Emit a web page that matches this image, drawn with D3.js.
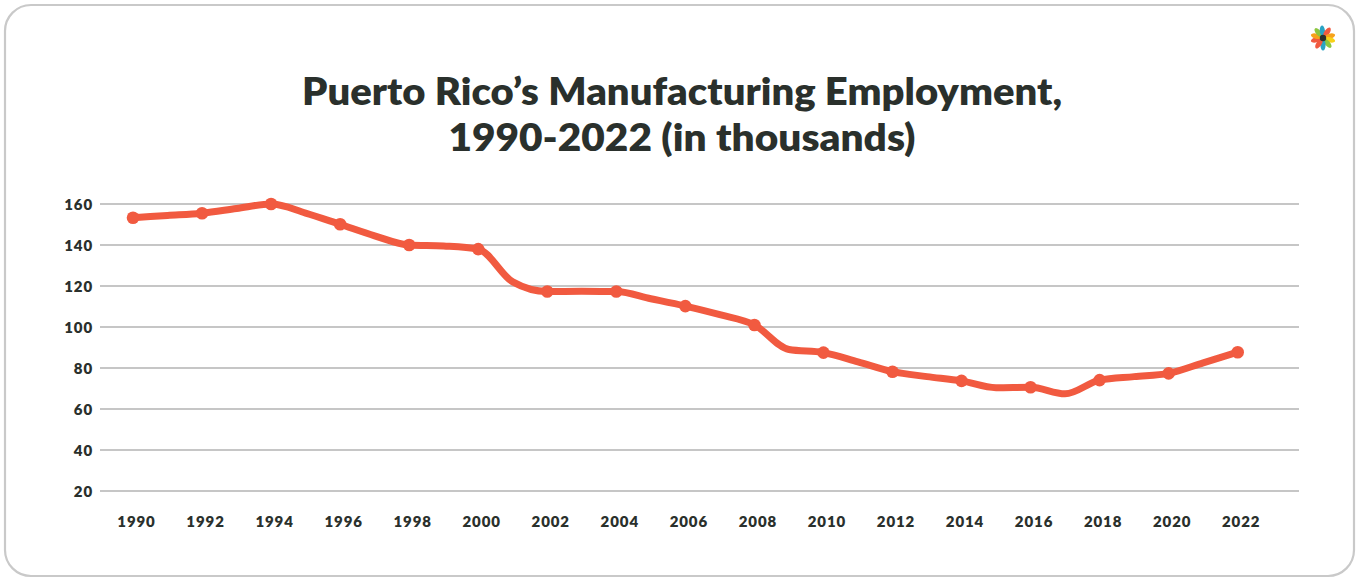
<!DOCTYPE html>
<html><head><meta charset="utf-8">
<script src="https://cdn.jsdelivr.net/npm/d3@7"></script>
<style>
html,body{margin:0;padding:0;background:#fff;}
svg{display:block;}
</style></head>
<body>
<svg id="chart" width="1359" height="579"></svg>
<script>
const years = [1990,1991,1992,1993,1994,1995,1996,1997,1998,1999,2000,2001,2002,2003,2004,2005,2006,2007,2008,2009,2010,2011,2012,2013,2014,2015,2016,2017,2018,2019,2020,2021,2022];
const employment = [153.3,154.4,155.5,157.8,160,155.6,150.1,144.5,140,139.5,138,122,117.3,117.4,117.3,113.8,110.2,106,101,89,87.5,83,78.2,75.8,73.7,70.4,70.6,67.4,74.1,75.8,77.4,82.5,87.7];
const xTickYears = [1990,1992,1994,1996,1998,2000,2002,2004,2006,2008,2010,2012,2014,2016,2018,2020,2022];
const yTicks = [20,40,60,80,100,120,140,160];
const titleLines = ["Puerto Rico\u2019s Manufacturing Employment,","1990-2022 (in thousands)"];
const titleWidths = [760, 467];

const svg = d3.select("#chart");
const W = 1359, H = 579;
const FONT = "Lato, 'Open Sans', sans-serif";

svg.append("rect").attr("x",5).attr("y",5).attr("width",W-10).attr("height",H-8)
  .attr("rx",26).attr("ry",26).attr("fill","#fff").attr("stroke","#c9c9c9").attr("stroke-width",2.2);

// title
const title = svg.append("text").attr("text-anchor","middle")
  .attr("font-family",FONT).attr("font-weight",800)
  .attr("font-size",37).attr("fill","#2a302c");
titleLines.forEach((t,i)=>title.append("tspan").attr("x",682).attr("y",105+i*46)
  .attr("textLength",titleWidths[i]).attr("lengthAdjust","spacingAndGlyphs").text(t));

// scales
const x = d3.scaleLinear().domain([1990,2022]).range([133,1237.7]);
const y = d3.scaleLinear().domain([20,160]).range([491,204]);

// grid
svg.append("g").selectAll("line").data(yTicks).join("line")
  .attr("x1",100).attr("x2",1299).attr("y1",d=>y(d)).attr("y2",d=>y(d))
  .attr("stroke","#c6c6c6").attr("stroke-width",2);

// y axis labels
const yAxis = d3.axisLeft(y).tickValues(yTicks).tickSize(0).tickPadding(0);
const yg = svg.append("g").attr("transform","translate(93,0)").call(yAxis);
yg.select(".domain").remove();
yg.selectAll("text").attr("font-family",FONT).attr("font-weight",800)
  .attr("font-size",15).attr("letter-spacing","0.9px").attr("fill","#2a302c").attr("dy","0.35em");

// x axis labels
const xAxis = d3.axisBottom(x).tickValues(xTickYears).tickFormat(d3.format("d")).tickSize(0).tickPadding(0);
const xg = svg.append("g").attr("transform","translate(3,516)").call(xAxis);
xg.select(".domain").remove();
xg.selectAll("text").attr("font-family",FONT).attr("font-weight",800)
  .attr("font-size",15).attr("letter-spacing","0.9px").attr("fill","#2a302c");

// line
const data = years.map((yr,i)=>({yr, v:employment[i]}));
const line = d3.line().x(d=>x(d.yr)).y(d=>y(d.v)).curve(d3.curveMonotoneX);
svg.append("path").datum(data).attr("d",line).attr("fill","none")
  .attr("stroke","#f15a40").attr("stroke-width",7).attr("stroke-linejoin","round").attr("stroke-linecap","round");

svg.append("g").selectAll("circle").data(data.filter(d=>xTickYears.includes(d.yr))).join("circle")
  .attr("cx",d=>x(d.yr)).attr("cy",d=>y(d.v)).attr("r",6.3).attr("fill","#f15a40");

// logo
const logo = svg.append("g").attr("transform","translate(1323,38)");
const petals = [
  {a:-105,c:"#f15a40"},{a:-75,c:"#f7a21b"},{a:-40,c:"#8cc63f"},{a:-5,c:"#2aa3c4"},{a:35,c:"#f15a40"},
  {a:75,c:"#f7a21b"},{a:105,c:"#f7d117"},{a:140,c:"#8cc63f"},{a:180,c:"#2aa3c4"},{a:215,c:"#f15a40"}
];
logo.selectAll("ellipse").data(petals).join("ellipse")
  .attr("cx",0).attr("cy",-7).attr("rx",2.6).attr("ry",5.5)
  .attr("fill",d=>d.c).attr("transform",d=>`rotate(${d.a})`);
logo.append("circle").attr("r",3.2).attr("fill","#2a302c");
</script>
</body></html>
